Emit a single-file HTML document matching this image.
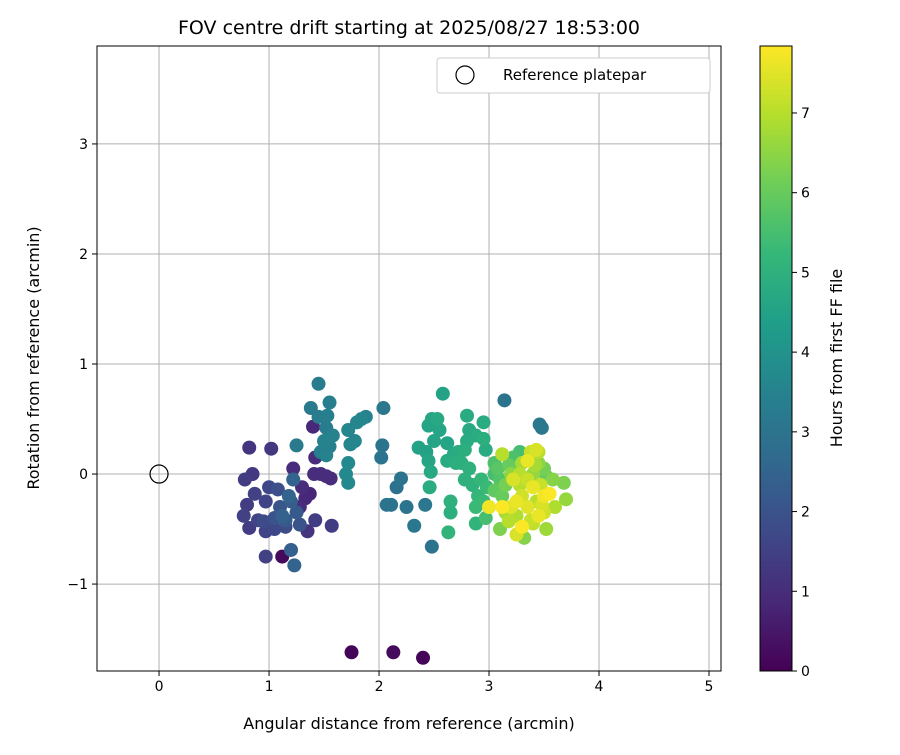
<!DOCTYPE html>
<html><head><meta charset="utf-8"><style>
body{margin:0;background:#fff;font-family:"Liberation Sans","DejaVu Sans",sans-serif}
svg text{font-family:"DejaVu Sans","Liberation Sans",sans-serif}
</style></head><body>
<svg id="chart" width="900" height="750" xmlns="http://www.w3.org/2000/svg"></svg>
<script>
const xs=[1.75,2.13,2.40,1.12,0.82,1.02,0.78,0.85,0.80,0.77,0.82,0.87,0.97,1.0,0.95,0.97,0.97,1.08,1.05,1.1,1.15,1.2,1.25,1.28,1.12,1.18,1.2,1.23,1.22,1.3,1.22,1.28,1.33,1.37,1.41,1.47,1.52,1.56,1.42,1.57,1.4,1.42,1.35,1.15,0.9,1.05,
1.45,1.38,1.55,1.45,1.53,1.52,1.58,1.5,1.55,1.47,1.52,1.25,1.72,1.8,1.84,1.88,1.78,1.74,1.72,1.7,1.72,2.04,2.03,2.02,2.07,2.11,2.16,2.2,2.25,2.32,2.42,2.48,2.36,3.14,3.46,3.48,
2.58,2.45,2.48,2.53,2.55,2.5,2.43,2.45,2.47,2.46,2.62,2.62,2.68,2.72,2.7,2.75,2.8,2.82,2.88,2.95,2.95,2.97,2.8,2.78,2.82,2.78,2.85,2.65,2.65,2.63,2.88,2.9,2.95,2.93,2.98,2.97,3.0,2.88,
3.05,3.08,3.1,3.05,3.12,3.15,3.2,3.12,3.22,3.28,3.3,3.35,3.38,3.43,3.45,3.42,3.5,3.52,3.47,3.5,3.55,3.58,3.68,3.7,3.6,3.5,3.45,3.52,3.4,3.3,3.25,3.32,3.18,3.2,3.25,3.3,3.35,3.28,3.35,3.4,3.22,3.0,3.15,3.1,3.23,3.4,3.43,3.45,3.05,3.18,3.25,3.38,3.48,3.28,3.12];
const ys=[-1.62,-1.62,-1.67,-0.75,0.24,0.23,-0.05,0.0,-0.28,-0.38,-0.49,-0.18,-0.25,-0.12,-0.43,-0.52,-0.75,-0.14,-0.4,-0.3,-0.42,-0.25,-0.35,-0.46,-0.38,-0.2,-0.69,-0.83,-0.05,-0.12,0.05,-0.3,-0.22,-0.18,0.0,0.0,-0.02,-0.04,-0.42,-0.47,0.43,0.15,-0.52,-0.48,-0.42,-0.5,
0.82,0.6,0.65,0.52,0.53,0.42,0.35,0.3,0.25,0.2,0.17,0.26,0.4,0.47,0.5,0.52,0.3,0.27,0.1,0.0,-0.08,0.6,0.26,0.15,-0.28,-0.28,-0.12,-0.04,-0.3,-0.47,-0.28,-0.66,0.24,0.67,0.45,0.42,
0.73,0.44,0.5,0.5,0.4,0.3,0.2,0.12,0.02,-0.12,0.28,0.12,0.18,0.2,0.1,0.1,0.53,0.4,0.35,0.47,0.32,0.22,0.3,0.22,0.05,-0.05,-0.1,-0.25,-0.35,-0.53,-0.3,-0.2,-0.25,-0.05,-0.12,-0.4,-0.3,-0.45,
0.1,0.05,-0.05,-0.15,-0.2,-0.1,0.0,0.18,0.15,0.2,0.1,0.12,0.2,0.22,0.2,0.08,0.05,-0.02,-0.1,-0.2,-0.18,-0.05,-0.08,-0.23,-0.3,-0.35,-0.38,-0.5,-0.45,-0.48,-0.55,-0.58,-0.43,-0.3,-0.25,-0.2,-0.3,-0.1,-0.05,-0.12,-0.05,-0.3,-0.35,-0.5,0.05,0.0,-0.25,0.1,0.0,0.08,-0.38,-0.42,-0.28,0.0,-0.3];
const ts=[0.1,0.2,0.1,0.2,1.2,1.3,1.4,1.3,1.4,1.5,1.4,1.5,1.6,1.7,1.8,1.6,1.5,1.9,2.0,2.1,2.2,2.3,2.2,2.0,2.4,2.5,2.4,2.5,2.5,1.0,1.0,1.0,0.9,0.8,1.0,1.0,1.0,1.0,1.4,1.4,0.9,1.0,1.2,1.8,1.6,1.7,
3.3,3.2,3.4,3.3,3.4,3.3,3.5,3.5,3.4,3.4,3.5,3.2,3.6,3.6,3.6,3.5,3.6,3.6,3.7,3.7,3.7,3.1,3.0,3.0,3.0,3.0,2.9,3.0,3.0,3.1,3.1,3.0,4.5,3.0,3.1,3.1,
4.5,4.6,4.6,4.7,4.6,4.6,4.5,4.6,4.7,4.8,4.6,4.8,4.7,4.8,4.9,4.9,4.8,4.7,4.8,4.8,4.9,4.8,4.8,4.9,5.0,5.0,5.0,5.0,4.9,5.1,5.3,5.2,5.3,5.2,5.3,5.5,5.4,5.1,
5.6,5.8,5.7,5.9,6.0,6.2,6.5,7.0,5.6,5.5,6.8,7.6,7.2,7.4,7.0,6.8,6.2,6.0,7.2,7.7,7.8,6.4,6.3,6.6,6.9,7.3,7.6,6.7,7.1,7.8,7.4,6.4,7.0,7.5,7.6,7.3,7.5,7.0,7.2,7.6,7.4,7.7,6.8,6.3,6.0,6.6,7.0,6.5,5.5,6.0,6.9,7.2,7.4,7.0,7.8];
const xTicks=[0,1,2,3,4,5];
const yTicks=[-1,0,1,2,3];
const cTicks=[0,1,2,3,4,5,6,7];
const tMax=7.84;

const NS="http://www.w3.org/2000/svg";
const svg=document.getElementById('chart');
const L=97,R=721,T=46,B=671;
const xMin=-0.564,xMax=5.109,yMin=-1.79,yMax=3.89;
const sx=v=>L+(v-xMin)/(xMax-xMin)*(R-L);
const sy=v=>B-(v-yMin)/(yMax-yMin)*(B-T);
const vir=[[68,1,84],[72,40,120],[62,74,137],[49,104,142],[38,130,142],[31,158,137],[53,183,121],[109,205,89],[180,222,44],[253,231,37]];
function col(t){let f=Math.max(0,Math.min(1,t/tMax))*(vir.length-1);let i=Math.min(Math.floor(f),vir.length-2);let u=f-i;const c=vir[i].map((a,k)=>Math.round(a+(vir[i+1][k]-a)*u));return `rgb(${c})`;}
function mk(tag,attrs,name,txt){const e=document.createElementNS(NS,tag);for(const k in attrs)e.setAttribute(k,attrs[k]);


if(txt!==undefined)e.textContent=txt;svg.appendChild(e);return e;}
mk('rect',{x:0,y:0,width:900,height:750,fill:'#fff'},'background');
xTicks.forEach(v=>{const x=sx(v);mk('line',{x1:x,x2:x,y1:T,y2:B,stroke:'#b0b0b0','stroke-width':1},'x-gridline');
mk('line',{x1:x,x2:x,y1:B,y2:B+5,stroke:'#000'},'x-tick');
mk('text',{x:x,y:B+20,'text-anchor':'middle','font-size':14},'x-tick-label',String(v));});
yTicks.forEach(v=>{const y=sy(v);mk('line',{x1:L,x2:R,y1:y,y2:y,stroke:'#b0b0b0','stroke-width':1},'y-gridline');
mk('line',{x1:L-5,x2:L,y1:y,y2:y,stroke:'#000'},'y-tick');
mk('text',{x:L-9,y:y+5,'text-anchor':'end','font-size':14},'y-tick-label',v<0?'\u2212'+(-v):String(v));});
const idx=ts.map((t,i)=>i).sort((a,b)=>ts[a]-ts[b]);
idx.forEach(i=>{mk('circle',{cx:sx(xs[i]),cy:sy(ys[i]),r:7,fill:col(ts[i])},'data-point');});
mk('circle',{cx:sx(0),cy:sy(0),r:9,fill:'none',stroke:'#000','stroke-width':1.2},'reference-marker');
mk('rect',{x:L,y:T,width:R-L,height:B-T,fill:'none',stroke:'#000','stroke-width':1},'plot-frame');
mk('text',{x:409,y:34,'text-anchor':'middle','font-size':19},'chart-title','FOV centre drift starting at 2025/08/27 18:53:00');
mk('text',{x:409,y:729,'text-anchor':'middle','font-size':16},'x-axis-title','Angular distance from reference (arcmin)');
mk('text',{x:39,y:358,'text-anchor':'middle','font-size':16,transform:'rotate(-90 39 358)'},'y-axis-title','Rotation from reference (arcmin)');
mk('rect',{x:437,y:58,width:273,height:35,rx:3,fill:'#fff',stroke:'#ccc'},'legend-box');
mk('circle',{cx:465,cy:75,r:9,fill:'none',stroke:'#000','stroke-width':1.2},'legend-marker');
mk('text',{x:503,y:80,'font-size':15},'legend-label','Reference platepar');
const defs=document.createElementNS(NS,'defs');
const g=document.createElementNS(NS,'linearGradient');g.setAttribute('id','vg');g.setAttribute('x1','0');g.setAttribute('y1','1');g.setAttribute('x2','0');g.setAttribute('y2','0');
vir.forEach((c,i)=>{const s=document.createElementNS(NS,'stop');s.setAttribute('offset',i/(vir.length-1));s.setAttribute('stop-color',`rgb(${c})`);g.appendChild(s);});
defs.appendChild(g);svg.appendChild(defs);
const CL=760,CR=792;
const cy=v=>B-v/tMax*(B-T);
mk('rect',{x:CL,y:T,width:CR-CL,height:B-T,fill:'url(#vg)',stroke:'#000','stroke-width':1},'colorbar');
cTicks.forEach(v=>{const y=cy(v);mk('line',{x1:CR,x2:CR+5,y1:y,y2:y,stroke:'#000'},'colorbar-tick');
mk('text',{x:CR+9,y:y+5,'font-size':14},'colorbar-tick-label',String(v));});
mk('text',{x:842,y:358,'text-anchor':'middle','font-size':16,transform:'rotate(-90 842 358)'},'colorbar-title','Hours from first FF file');
</script>
</body></html>
